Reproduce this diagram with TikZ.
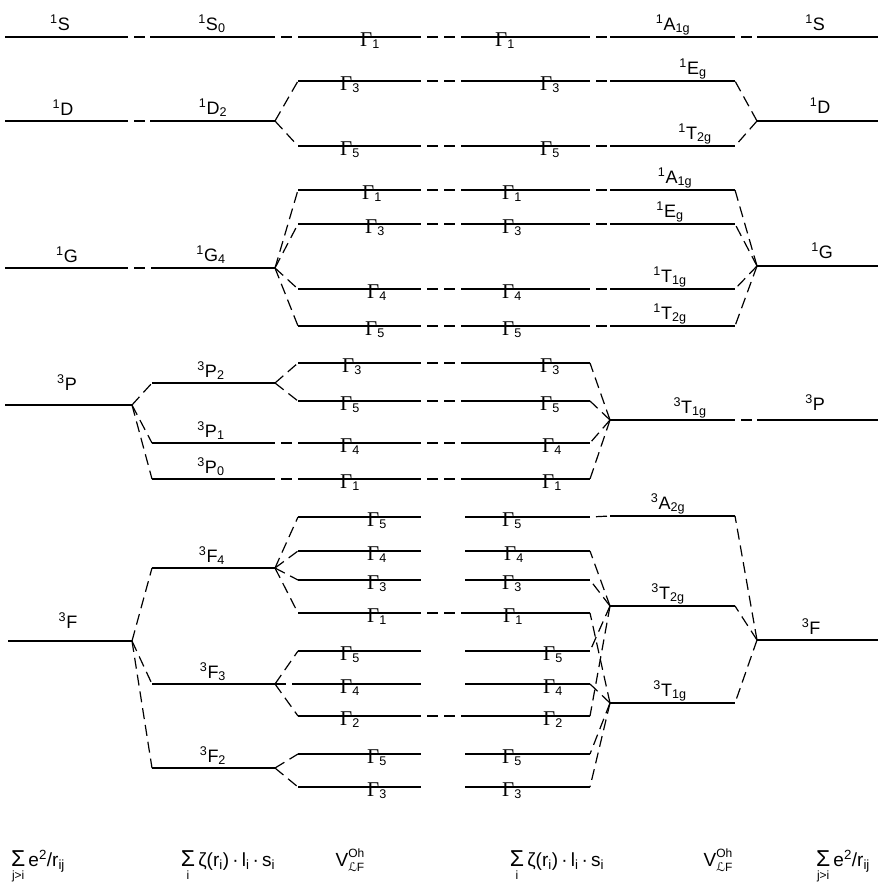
\documentclass[tikz,border=0pt]{standalone}
\usepackage{fontspec}
\setmainfont{Liberation Sans}
\newfontfamily\gfont{Liberation Serif}
\newfontfamily\dvfont{DejaVu Sans}
\newcommand\Gam[1]{{\gfont\fontsize{21}{21}\selectfont Γ}\textsubscript{#1}}
\newcommand\sumlim[1]{\ooalign{{\fontsize{23}{23}\selectfont Σ}\cr
  \hidewidth\raisebox{-13pt}{\fontsize{12}{12}\selectfont #1}\hidewidth\cr}}
\newcommand\Vcf{V\rlap{\raisebox{9pt}{\fontsize{12}{12}\selectfont Oh}}%
  \raisebox{-5pt}{\fontsize{12}{12}\selectfont{\dvfont ℒ}F}}

\begin{document}
\begin{tikzpicture}[x=1pt, y=-1pt,
    level/.style={line width=1.3pt},
    split/.style={line width=1.2pt, dash pattern=on 11pt off 6pt},
    gap/.style={line width=1.2pt, dash pattern=on 11pt off 6pt, dash phase=11pt},
    lab/.style={anchor=base, inner sep=0pt, font=\fontsize{18}{20}\selectfont},
    eq/.style={anchor=base, inner sep=0pt, font=\fontsize{19}{21}\selectfont}]

  \useasboundingbox (0,0) rectangle (878,886);

  % free ion terms and J levels
  \foreach \n/\xa/\xb/\y in {aS/5/128/37, aD/5/128/121, aG/5/128/268, aP/5/132/405, aF/8/132/641,
      bS/150/275/37, bD/150/275/121, bG/152/275/268, bP2/152/275/383, bP1/152/275/443,
      bP0/152/275/479, bF4/152/275/568, bF3/152/275/684, bF2/152/275/768}
    \draw[level] (\xa,\y) coordinate (\n-l) -- (\xb,\y) coordinate (\n-r);

  % double group levels (two middle columns)
  \foreach \n/\y in {S/37, D3/81, D5/146, G1/190, G3/224, G4/289, G5/326,
      P3/363, P5/401, P4/443, P1/479, F4a/517, F4b/551, F4c/580, F4d/613,
      F3a/651, F3b/684, F3c/716, F2a/754, F2b/787} {
    \draw[level] (298,\y) coordinate (c\n-l) -- (421,\y) coordinate (c\n-r);
    \draw[level] (465,\y) coordinate (d\n-l) -- (590,\y) coordinate (d\n-r);
  }

  % strong field terms and free ion terms (right)
  \foreach \n/\xa/\xb/\y in {eS/610/735/37, eD3/610/735/81, eD5/610/735/146, eG1/610/735/190,
      eG3/610/735/224, eG4/610/735/289, eG5/610/735/326, eP/610/735/420, eA/610/735/516,
      eT2/610/735/606, eT1/610/735/703,
      fS/757/878/37, fD/757/878/121, fG/757/878/266, fP/757/878/420, fF/757/878/640}
    \draw[level] (\xa,\y) coordinate (\n-l) -- (\xb,\y) coordinate (\n-r);

  % straight correlations
  \foreach \a/\b in {aS/bS, bS/cS, cS/dS, dS/eS, eS/fS, aD/bD, aG/bG,
      cD3/dD3, cD5/dD5, dD3/eD3, dD5/eD5, cG1/dG1, cG3/dG3, cG4/dG4, cG5/dG5,
      dG1/eG1, dG3/eG3, dG4/eG4, dG5/eG5, bP1/cP4, bP0/cP1,
      cP3/dP3, cP5/dP5, cP4/dP4, cP1/dP1, eP/fP, cF4d/dF4d, cF3c/dF3c, dF4a/eA}
    \draw[gap] (\a-r) -- (\b-l);

  % splittings
  \foreach \a/\b in {bD/cD3, bD/cD5, bG/cG1, bG/cG3, bG/cG4, bG/cG5,
      aP/bP2, aP/bP1, aP/bP0, bP2/cP3, bP2/cP5,
      aF/bF4, aF/bF3, aF/bF2, bF4/cF4a, bF4/cF4b, bF4/cF4c, bF4/cF4d,
      bF3/cF3a, bF3/cF3b, bF3/cF3c, bF2/cF2a, bF2/cF2b}
    \draw[split] (\a-r) -- (\b-l);

  % mergings
  \foreach \a/\b in {eD3/fD, eD5/fD, eG1/fG, eG3/fG, eG4/fG, eG5/fG,
      dP3/eP, dP5/eP, dP4/eP, dP1/eP,
      dF4b/eT2, dF4c/eT2, dF3a/eT2, dF3c/eT2, dF4d/eT1, dF3b/eT1, dF2a/eT1, dF2b/eT1,
      eA/fF, eT2/fF, eT1/fF}
    \draw[split] (\b-l) -- (\a-r);

  % labels, first column
  \node[lab] (t-aS) at (60,30) {\textsuperscript{1}S};
  \node[lab] (t-aD) at (63,115) {\textsuperscript{1}D};
  \node[lab] (t-aG) at (67,262) {\textsuperscript{1}G};
  \node[lab] (t-aP) at (67,390) {\textsuperscript{3}P};
  \node[lab] (t-aF) at (68,628) {\textsuperscript{3}F};

  % labels, second column
  \node[lab] (t-bS) at (212,30) {\textsuperscript{1}S\textsubscript{0}};
  \node[lab] (t-bD) at (213,114) {\textsuperscript{1}D\textsubscript{2}};
  \node[lab] (t-bG) at (211,261) {\textsuperscript{1}G\textsubscript{4}};
  \node[lab] (t-bP2) at (211,377) {\textsuperscript{3}P\textsubscript{2}};
  \node[lab] (t-bP1) at (211,437) {\textsuperscript{3}P\textsubscript{1}};
  \node[lab] (t-bP0) at (211,473) {\textsuperscript{3}P\textsubscript{0}};
  \node[lab] (t-bF4) at (212,562) {\textsuperscript{3}F\textsubscript{4}};
  \node[lab] (t-bF3) at (213,678) {\textsuperscript{3}F\textsubscript{3}};
  \node[lab] (t-bF2) at (213,762) {\textsuperscript{3}F\textsubscript{2}};

  % labels, third column
  \foreach \n/\g/\x in {S/1/370, D3/3/350, D5/5/350, G1/1/372, G3/3/375, G4/4/377, G5/5/375,
      P3/3/352, P5/5/350, P4/4/350, P1/1/350, F4a/5/377, F4b/4/377, F4c/3/377, F4d/1/377,
      F3a/5/350, F3b/4/350, F3c/2/350, F2a/5/377, F2b/3/377}
    \node[lab] (t-c\n) at ([yshift=-9pt]c\n-l -| \x,0) {\Gam{\g}};

  % labels, fourth column
  \foreach \n/\g/\x in {S/1/505, D3/3/550, D5/5/550, G1/1/512, G3/3/512, G4/4/512, G5/5/512,
      P3/3/550, P5/5/550, P4/4/552, P1/1/552, F4a/5/512, F4b/4/514, F4c/3/512, F4d/1/513,
      F3a/5/553, F3b/4/553, F3c/2/553, F2a/5/512, F2b/3/512}
    \node[lab] (t-d\n) at ([yshift=-9pt]d\n-l -| \x,0) {\Gam{\g}};

  % labels, fifth column
  \node[lab] (t-eS) at (673,30) {\textsuperscript{1}A\textsubscript{1g}};
  \node[lab] (t-eD3) at (693,74) {\textsuperscript{1}E\textsubscript{g}};
  \node[lab] (t-eD5) at (695,139) {\textsuperscript{1}T\textsubscript{2g}};
  \node[lab] (t-eG1) at (675,183) {\textsuperscript{1}A\textsubscript{1g}};
  \node[lab] (t-eG3) at (670,217) {\textsuperscript{1}E\textsubscript{g}};
  \node[lab] (t-eG4) at (670,282) {\textsuperscript{1}T\textsubscript{1g}};
  \node[lab] (t-eG5) at (670,319) {\textsuperscript{1}T\textsubscript{2g}};
  \node[lab] (t-eP) at (690,413) {\textsuperscript{3}T\textsubscript{1g}};
  \node[lab] (t-eA) at (668,509) {\textsuperscript{3}A\textsubscript{2g}};
  \node[lab] (t-eT2) at (668,599) {\textsuperscript{3}T\textsubscript{2g}};
  \node[lab] (t-eT1) at (670,696) {\textsuperscript{3}T\textsubscript{1g}};

  % labels, last column
  \node[lab] (t-fS) at (815,30) {\textsuperscript{1}S};
  \node[lab] (t-fD) at (820,113) {\textsuperscript{1}D};
  \node[lab] (t-fG) at (822,258) {\textsuperscript{1}G};
  \node[lab] (t-fP) at (815,410) {\textsuperscript{3}P};
  \node[lab] (t-fF) at (811,634) {\textsuperscript{3}F};

  % perturbations
  \node[eq] (h1) at (38,866) {\sumlim{j>i}\,e\textsuperscript{2}/r\textsubscript{ij}};
  \node[eq] (h2) at (228,866) {\sumlim{i}\,ζ(r\textsubscript{i})\,·\,l\textsubscript{i}\,·\,s\textsubscript{i}};
  \node[eq] (h3) at (350,866) {\Vcf};
  \node[eq] (h4) at (557,866) {\sumlim{i}\,ζ(r\textsubscript{i})\,·\,l\textsubscript{i}\,·\,s\textsubscript{i}};
  \node[eq] (h5) at (718,866) {\Vcf};
  \node[eq] (h6) at (843,866) {\sumlim{j>i}\,e\textsuperscript{2}/r\textsubscript{ij}};
\end{tikzpicture}
\end{document}
